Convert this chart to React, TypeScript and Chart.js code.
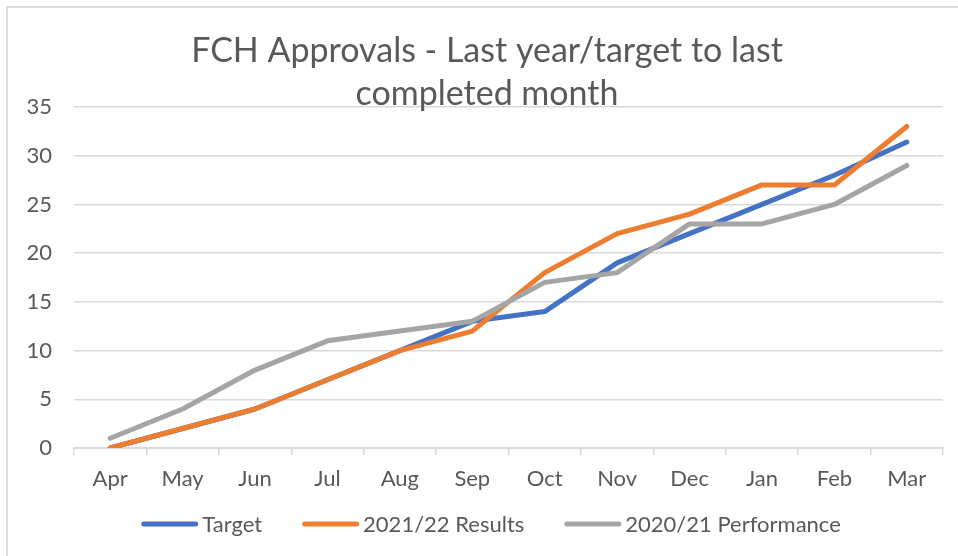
import React, { useEffect, useRef } from "react";
import { Chart, registerables } from "chart.js";

Chart.register(...registerables);

const months = ["Apr", "May", "Jun", "Jul", "Aug", "Sep", "Oct", "Nov", "Dec", "Jan", "Feb", "Mar"];
const targetValues = [0, 2, 4, 7, 10, 13, 14, 19, 22, 25, 28, 31.4];
const results2122 = [0, 2, 4, 7, 10, 12, 18, 22, 24, 27, 27, 33];
const performance2021 = [1, 4, 8, 11, 12, 13, 17, 18, 23, 23, 25, 29];
const seriesNames = ["Target", "2021/22 Results", "2020/21 Performance"];
const seriesColors = ["#4472C4", "#ED7D31", "#A5A5A5"];
const titleLines = ["FCH Approvals - Last year/target to last", "completed month"];

const FONT = "Lato, 'Open Sans', sans-serif";
const TEXT = "#595959";
const GRID = "#d9d9d9";

const decorPlugin = {
  id: "decor",
  beforeDraw(chart: any) {
    const ctx = chart.ctx;
    ctx.save();
    ctx.fillStyle = "#dcdcdc";
    ctx.fillRect(6, 6, 2, chart.height - 6);
    ctx.fillRect(6, 6, chart.width - 6, 2);
    ctx.restore();
  },
  afterDraw(chart: any) {
    const ctx = chart.ctx;
    ctx.save();
    // title
    ctx.fillStyle = TEXT;
    ctx.font = `34px ${FONT}`;
    ctx.textAlign = "center";
    ctx.textBaseline = "alphabetic";
    ctx.fillText(titleLines[0], 487, 62);
    ctx.fillText(titleLines[1], 487, 105);
    // legend
    ctx.font = `22px ${FONT}`;
    ctx.textAlign = "left";
    ctx.textBaseline = "middle";
    const sw = 57;
    const gapText = 4;
    const gapItem = 40;
    const widths = seriesNames.map((n) => sw + gapText + ctx.measureText(n).width);
    const total = widths.reduce((a, b) => a + b, 0) + gapItem * (seriesNames.length - 1);
    let x = 491 - total / 2;
    const y = 524;
    seriesNames.forEach((name, i) => {
      ctx.strokeStyle = seriesColors[i];
      ctx.lineWidth = 5;
      ctx.lineCap = "round";
      ctx.beginPath();
      ctx.moveTo(x + 2.5, y);
      ctx.lineTo(x + sw - 2.5, y);
      ctx.stroke();
      ctx.fillStyle = TEXT;
      ctx.fillText(name, x + sw + gapText, y + 1);
      x += widths[i] + gapItem;
    });
    ctx.restore();
  },
};

export default function App() {
  const canvasRef = useRef<HTMLCanvasElement | null>(null);

  useEffect(() => {
    if (!canvasRef.current) return;
    const mk = (label: string, data: number[], color: string, order: number) => ({
      label,
      data,
      borderColor: color,
      backgroundColor: color,
      borderWidth: 5,
      borderCapStyle: "round" as const,
      borderJoinStyle: "round" as const,
      pointRadius: 0,
      pointHoverRadius: 0,
      tension: 0,
      fill: false,
      order,
    });
    const chart = new Chart(canvasRef.current, {
      type: "line",
      data: {
        labels: months,
        datasets: [
          mk(seriesNames[0], targetValues, seriesColors[0], 2),
          mk(seriesNames[1], results2122, seriesColors[1], 1),
          mk(seriesNames[2], performance2021, seriesColors[2], 0),
        ],
      },
      options: {
        responsive: false,
        animation: false,
        devicePixelRatio: 1,
        layout: { padding: { left: 0, top: 107, right: 15, bottom: 0 } },
        plugins: {
          legend: { display: false },
          title: { display: false },
          tooltip: { enabled: false },
        },
        scales: {
          x: {
            offset: true,
            afterFit: (scale: any) => {
              scale.height = 108;
            },
            grid: {
              offset: true,
              drawOnChartArea: false,
              drawTicks: true,
              tickLength: 7,
              color: GRID,
              lineWidth: 1.5,
            },
            border: { display: true, color: GRID, width: 2 },
            ticks: {
              color: TEXT,
              font: { family: FONT, size: 22 },
              padding: 11,
              maxRotation: 0,
              autoSkip: false,
            },
          },
          y: {
            min: 0,
            max: 35,
            afterFit: (scale: any) => {
              scale.width = 74;
            },
            grid: {
              color: GRID,
              lineWidth: 1.5,
              drawTicks: false,
            },
            border: { display: false },
            ticks: {
              stepSize: 5,
              color: TEXT,
              font: { family: FONT, size: 22 },
              padding: 22,
            },
          },
        },
      },
      plugins: [decorPlugin],
    });
    return () => chart.destroy();
  }, []);

  return (
    <div style={{ position: "absolute", left: 0, top: 0, width: 958, height: 556, background: "#fff" }}>
      <canvas ref={canvasRef} width={958} height={556} style={{ display: "block", width: 958, height: 556 }} />
    </div>
  );
}
